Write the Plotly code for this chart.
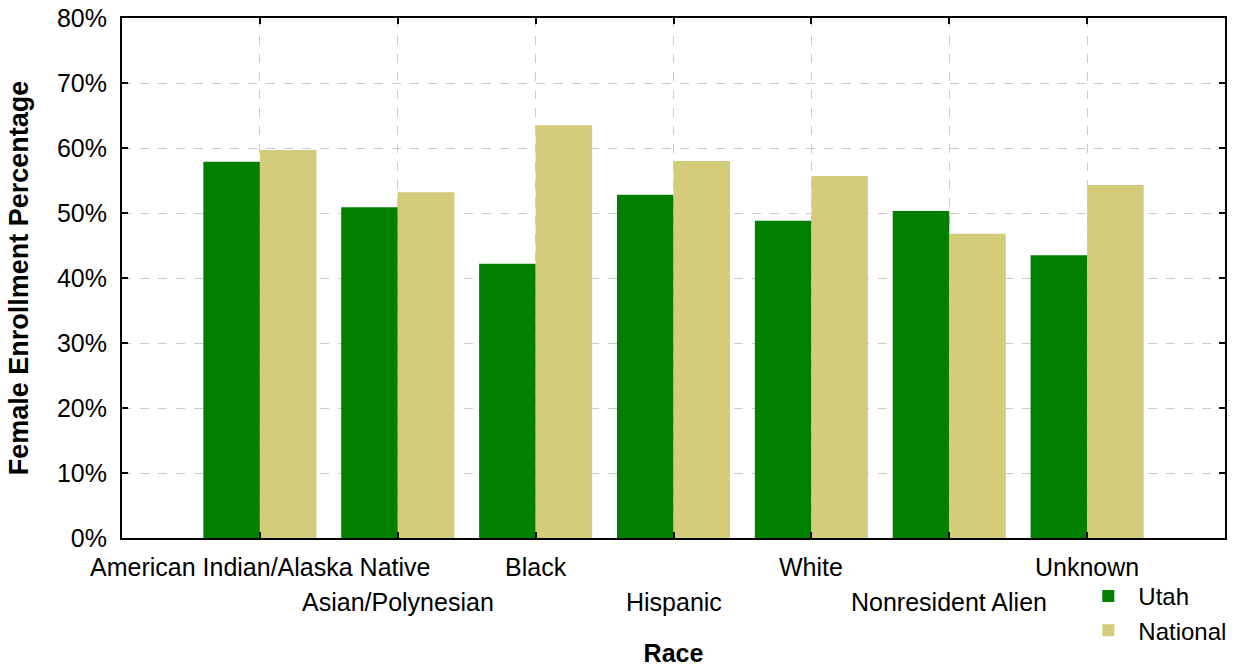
import plotly.graph_objects as go

categories = ["American Indian/Alaska Native", "Asian/Polynesian", "Black", "Hispanic",
              "White", "Nonresident Alien", "Unknown"]
utah = [57.9, 50.9, 42.2, 52.8, 48.8, 50.3, 43.5]
national = [59.7, 53.2, 63.5, 58.0, 55.7, 46.8, 54.3]
y_ticks = [0, 10, 20, 30, 40, 50, 60, 70, 80]
y_tick_labels = [f"{v}%" for v in y_ticks]

GREEN = "#007F00"
KHAKI = "#D3CC7A"
FONT = "Liberation Sans, Arial, sans-serif"

fig = go.Figure()
fig.add_trace(go.Bar(name="Utah", x=categories, y=utah, marker=dict(color=GREEN, line=dict(width=0))))
fig.add_trace(go.Bar(name="National", x=categories, y=national, marker=dict(color=KHAKI, line=dict(width=0))))

# two-row category labels
for i, c in enumerate(categories):
    fig.add_annotation(x=c, xref="x", y=0, yref="paper", yanchor="top",
                       yshift=-13 if i % 2 == 0 else -48, text=c, showarrow=False,
                       font=dict(family=FONT, size=25, color="black"))

fig.update_layout(
    width=1257, height=671,
    margin=dict(l=122, r=32, t=18, b=133, autoexpand=False),
    paper_bgcolor="white", plot_bgcolor="white",
    barmode="group", bargap=0.18, bargroupgap=0,
    font=dict(family=FONT, size=24, color="black"),
    showlegend=True,
    legend=dict(x=0.867, y=-0.069, xanchor="left", yanchor="top",
                bgcolor="rgba(0,0,0,0)", font=dict(size=24), tracegroupgap=0,
                itemwidth=50),
)
fig.update_xaxes(
    range=[-1, 7], showticklabels=False, automargin=False,
    showline=True, linecolor="black", linewidth=2, mirror="ticks",
    ticks="inside", ticklen=6, tickwidth=2, tickcolor="black",
    showgrid=True, gridcolor="#cccccc", griddash="dash", gridwidth=1,
    title=dict(text="<b>Race</b>", font=dict(size=25), standoff=105),
)
fig.update_yaxes(
    range=[0, 80], tickvals=y_ticks, ticktext=y_tick_labels, automargin=False,
    showline=True, linecolor="black", linewidth=2, mirror="ticks",
    ticks="inside", ticklen=6, tickwidth=2, tickcolor="black",
    showgrid=True, gridcolor="#cccccc", griddash="dash", gridwidth=1,
    zeroline=False, ticklabelstandoff=8, ticklabeloverflow="allow",
    title=dict(text="<b>Female Enrollment Percentage</b>", font=dict(size=27), standoff=21),
    tickfont=dict(size=25),
)

fig.write_html("out.html", config={"displayModeBar": False},
               post_script="document.body.style.margin='0';document.body.style.overflow='hidden';")
